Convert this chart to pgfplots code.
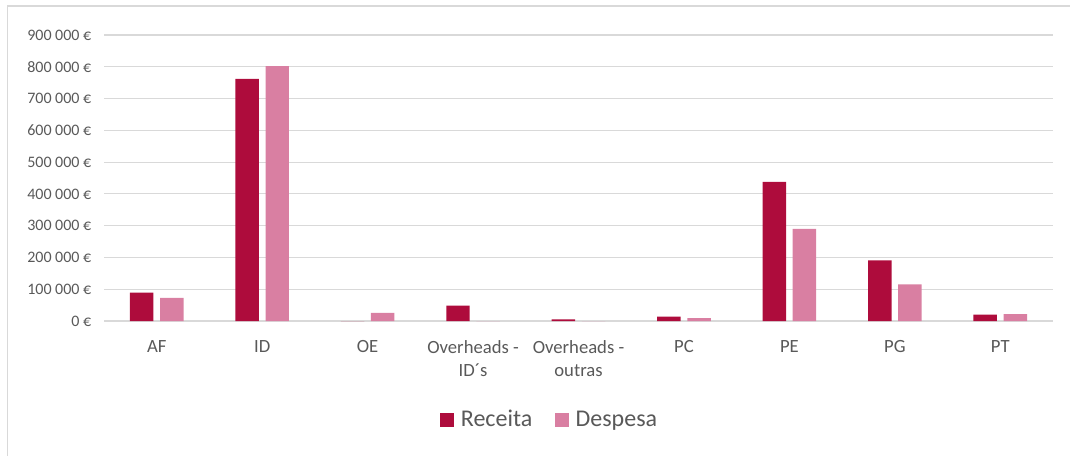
\documentclass[border=0pt]{standalone}
\usepackage{fontspec}
\setmainfont{Carlito}
\usepackage{pgfplots}
\pgfplotsset{compat=1.18}
\definecolor{rec}{HTML}{AE0C3C}
\definecolor{desp}{HTML}{D97FA2}
\definecolor{txt}{HTML}{595959}
\definecolor{grd}{HTML}{D9D9D9}
\begin{document}
\begin{tikzpicture}
\useasboundingbox (0,0) rectangle (802.5pt,341.25pt);
\draw[grd, line width=0.9pt] (5.6pt,-2pt) -- (5.6pt,336.8pt) -- (805pt,336.8pt);
\begin{axis}[
  at={(78pt,100.5pt)}, anchor=south west,
  scale only axis, width=711.75pt, height=214.5pt,
  ybar=5pt, bar width=17.6pt,
  xmin=-0.5, xmax=8.5, ymin=0, ymax=900000,
  scaled y ticks=false,
  xtick={0,...,8},
  xticklabels={AF,ID,OE,{Overheads -\\ID´s},{Overheads -\\outras},PC,PE,PG,PT},
  xticklabel style={align=center, font=\fontsize{14}{17.5}\selectfont, text=txt, yshift=-11pt},
  ytick={0,100000,...,900000},
  yticklabels={0 €,100 000 €,200 000 €,300 000 €,400 000 €,500 000 €,600 000 €,700 000 €,800 000 €,900 000 €},
  yticklabel style={font=\fontsize{12}{14}\selectfont, text=txt, xshift=-6pt},
  major tick length=0pt,
  axis line style={draw=none},
  ymajorgrids, grid style={grd, line width=0.9pt},
  legend style={at={(0.47,-0.345)}, anchor=center, draw=none, legend columns=2,
    font=\fontsize{18}{21}\selectfont, text=txt,
    /tikz/every odd column/.append style={column sep=3pt},
    /tikz/every even column/.append style={column sep=15pt}},
  legend image code/.code={\fill[#1] (0pt,-5.25pt) rectangle (10.5pt,5.25pt);},
]
\addplot[fill=rec, draw=none] coordinates {(0,89500) (1,762000) (2,0) (3,48400) (4,5000) (5,13500) (6,438000) (7,190600) (8,19700)};
\addplot[fill=desp, draw=none] coordinates {(0,72800) (1,802000) (2,25300) (3,0) (4,0) (5,9400) (6,290000) (7,115600) (8,21900)};
\legend{Receita,Despesa}
\end{axis}
\end{tikzpicture}
\end{document}
